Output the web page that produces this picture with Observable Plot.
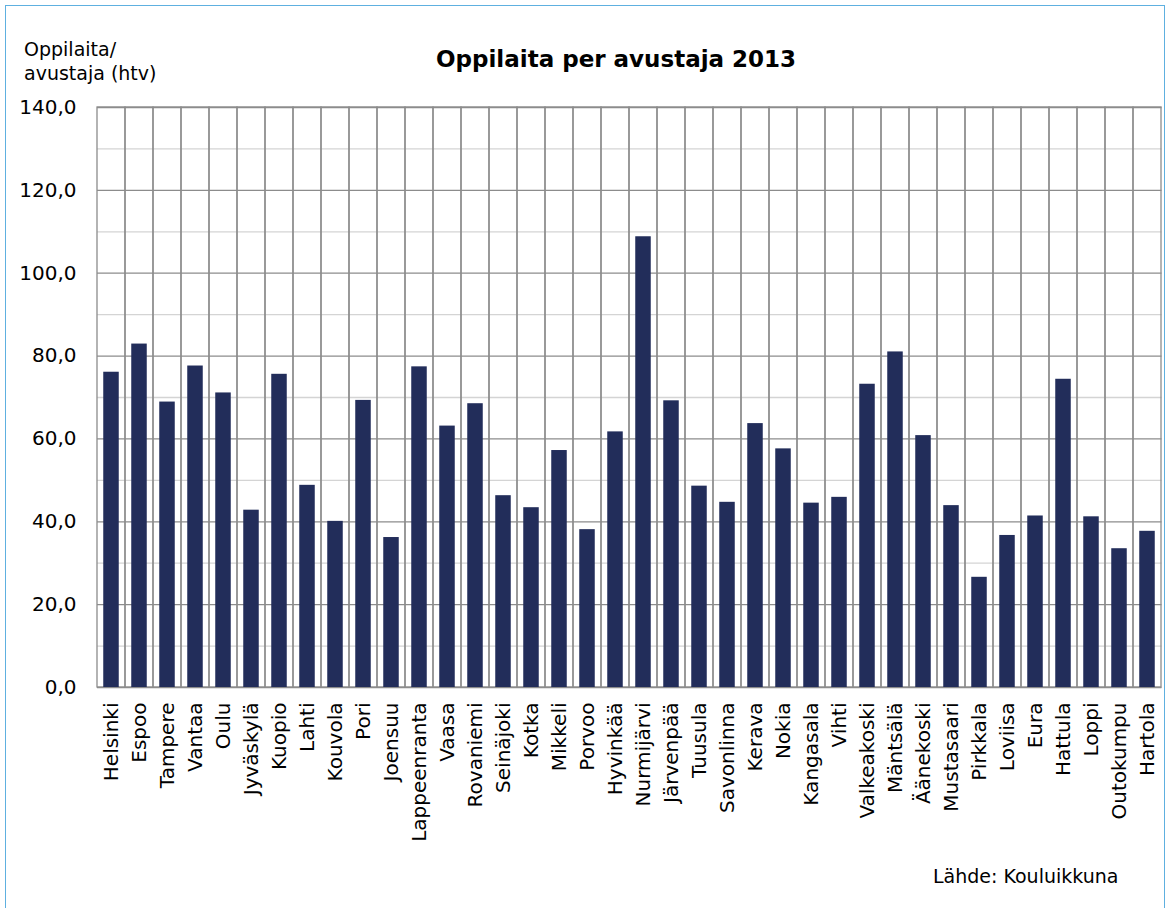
<!DOCTYPE html>
<html>
<head>
<meta charset="utf-8">
<script src="https://cdn.jsdelivr.net/npm/d3@7"></script>
<script src="https://cdn.jsdelivr.net/npm/@observablehq/plot@0.6"></script>
<style>
  html, body { margin: 0; padding: 0; background: #fff; }
  #wrap { position: relative; width: 1171px; height: 908px; overflow: hidden; font-family: "DejaVu Sans", Verdana, sans-serif; color: #000; }
  #frame { position: absolute; left: 5px; top: 5px; width: 1160px; height: 940px; border: 1.5px solid #5eb0e0; box-sizing: border-box; }
  #chart { position: absolute; left: 0; top: 0; }
  #title { position: absolute; left: 436px; top: 46px; font-weight: bold; font-size: 23px; white-space: nowrap; }
  #ylabel { position: absolute; left: 24px; top: 37px; font-size: 19px; line-height: 24px; }
  #caption { position: absolute; left: 933px; top: 865px; font-size: 19px; }
</style>
</head>
<body>
<div id="wrap">
  <div id="frame"></div>
  <div id="chart"></div>
  <div id="title">Oppilaita per avustaja 2013</div>
  <div id="ylabel">Oppilaita/<br>avustaja (htv)</div>
  <div id="caption">Lähde: Kouluikkuna</div>
</div>
<script>
const municipalities = ["Helsinki","Espoo","Tampere","Vantaa","Oulu","Jyväskylä","Kuopio","Lahti","Kouvola","Pori","Joensuu","Lappeenranta","Vaasa","Rovaniemi","Seinäjoki","Kotka","Mikkeli","Porvoo","Hyvinkää","Nurmijärvi","Järvenpää","Tuusula","Savonlinna","Kerava","Nokia","Kangasala","Vihti","Valkeakoski","Mäntsälä","Äänekoski","Mustasaari","Pirkkala","Loviisa","Eura","Hattula","Loppi","Outokumpu","Hartola"];
const pupilsPerAssistant = [76.1,82.9,68.9,77.6,71.1,42.8,75.6,48.8,40.1,69.3,36.2,77.4,63.1,68.5,46.3,43.4,57.2,38.1,61.7,108.8,69.2,48.6,44.7,63.7,57.6,44.5,45.9,73.2,81.0,60.8,43.9,26.6,36.7,41.4,74.4,41.2,33.5,37.7];
const majorTicks = [0,20,40,60,80,100,120,140];
const minorTicks = [10,30,50,70,90,110,130];

const data = municipalities.map((name, i) => ({name, value: pupilsPerAssistant[i]}));
const fmt = d => d.toFixed(1).replace(".", ",");

const H = 860;
const chart = Plot.plot({
  width: 1171,
  height: H,
  marginLeft: 97,
  marginRight: 9.5,
  marginTop: 107,
  marginBottom: H - 687,
  style: {fontFamily: "'DejaVu Sans', Verdana, sans-serif", fontSize: "20px", color: "#000", background: "transparent"},
  x: {domain: municipalities, padding: 0, label: null},
  y: {domain: [0, 140], label: null},
  marks: [
    Plot.ruleY(minorTicks, {stroke: "#d4d4d4", strokeWidth: 1.3}),
    Plot.ruleY(majorTicks, {stroke: "#8c8c8c", strokeWidth: 1.3}),
    Plot.barY(data, {x: "name", y1: 0, y2: 140, fill: "none", stroke: "#8c8c8c", strokeWidth: 1.3}),
    Plot.barY(data, {x: "name", y: "value", fill: "#222d5a", insetLeft: 6.25, insetRight: 6.25}),
    Plot.axisY({ticks: majorTicks, tickFormat: fmt, tickSize: 0, tickPadding: 21, label: null, fontSize: 20}),
    Plot.axisX({tickRotate: -90, tickSize: 0, tickPadding: 15, label: null, fontSize: 20})
  ]
});
document.getElementById("chart").appendChild(chart);
</script>
</body>
</html>
